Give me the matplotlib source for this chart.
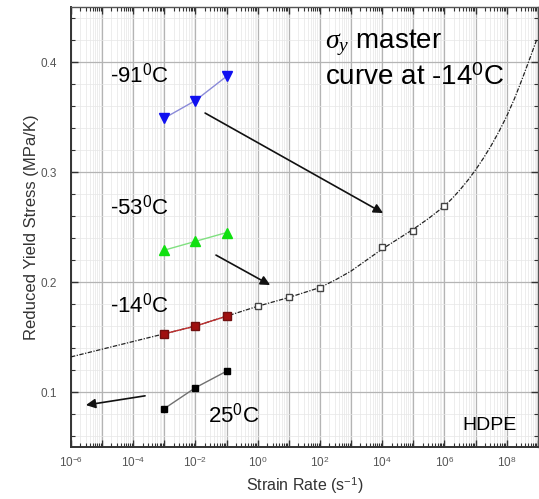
import numpy as np
import matplotlib
matplotlib.use("Agg")
import matplotlib.pyplot as plt
from matplotlib.ticker import FixedLocator, FuncFormatter, MultipleLocator

plt.rcParams["font.family"] = ["Liberation Sans", "DejaVu Sans"]
plt.rcParams["mathtext.fontset"] = "custom"
plt.rcParams["mathtext.rm"] = "Liberation Sans"
plt.rcParams["mathtext.it"] = "Liberation Serif:italic"

# measured strain rates (s^-1) for each test temperature
rates = [1e-3, 1e-2, 1e-1]
stress_m91 = [0.349, 0.365, 0.387]
stress_m53 = [0.229, 0.237, 0.245]
stress_m14 = [0.153, 0.160, 0.169]
stress_p25 = [0.085, 0.104, 0.119]

# shifted points on the -14 C master curve
shifted_rates = [1e0, 1e1, 1e2, 1e4, 1e5, 1e6]
shifted_stress = [0.178, 0.186, 0.195, 0.232, 0.246, 0.269]

# master curve trace (log10 of rate, stress)
master_lograte = [-6, -5, -4, -3, -2, -1, 0, 1, 2, 2.5, 3, 3.5, 4, 4.5, 5, 5.5,
                  6, 6.25, 6.5, 6.75, 7, 7.25, 7.5, 7.75, 8, 8.25, 8.5, 8.75, 8.97]
master_stress = [0.132, 0.139, 0.146, 0.153, 0.160, 0.169, 0.178, 0.186, 0.195,
                 0.202, 0.210, 0.220, 0.230, 0.239, 0.248, 0.258, 0.269, 0.2760,
                 0.2838, 0.2924, 0.3019, 0.3124, 0.3239, 0.3366, 0.3506, 0.3666,
                 0.3846, 0.4036, 0.4206]

# shift arrows: (start, end) in data coordinates
arrows = [
    ((10**-1.69, 0.3536), (10**4.03, 0.2627)),
    ((10**-1.34, 0.2245), (10**0.40, 0.1973)),
    ((10**-3.62, 0.0966), (10**-5.52, 0.0882)),
]

fig = plt.figure(figsize=(5.39, 4.99), dpi=100)
ax = fig.add_axes([0.1317, 0.104, 0.866, 0.882])
ax.set_xscale("log")
ax.set_xlim(1e-6, 1e9)
ax.set_ylim(0.05, 0.45)

ax.plot(10.0 ** np.array(master_lograte), master_stress, color="#222222", lw=0.9,
        ls=(0, (3.5, 1.2, 1, 1.2)), zorder=3)

ax.plot(rates, stress_m91, color="#8a8ad8", lw=1.0, marker="v", ms=7,
        mfc="#1010f0", mec="#1010f0", zorder=4)
ax.plot(rates, stress_m53, color="#80e080", lw=1.0, marker="^", ms=7,
        mfc="#10e010", mec="#10e010", zorder=4)
ax.plot(rates, stress_m14, color="#c03030", lw=1.0, marker="s", ms=5.5,
        mfc="#a01010", mec="#701010", zorder=4)
ax.plot(rates, stress_p25, color="#707070", lw=1.0, marker="s", ms=5,
        mfc="black", mec="black", zorder=4)
ax.plot(shifted_rates, shifted_stress, ls="none", marker="s", ms=4.8,
        mfc="white", mec="#444444", mew=1.0, zorder=5)

for start, end in arrows:
    ax.annotate("", xy=end, xytext=start,
                arrowprops=dict(arrowstyle="-|>", color="#111111", lw=1.2,
                                mutation_scale=14, shrinkA=0, shrinkB=0))

big = 16
ax.text(10**-4.75, 0.381, "-91$^{0}$C", fontsize=big)
ax.text(10**-4.75, 0.261, "-53$^{0}$C", fontsize=big)
ax.text(10**-4.75, 0.172, "-14$^{0}$C", fontsize=big)
ax.text(10**-1.59, 0.0727, "25$^{0}$C", fontsize=big)
ax.text(10**2.17, 0.4127, r"$\sigma_y$ master", fontsize=20)
ax.text(10**2.17, 0.379, "curve at -14$^{0}$C", fontsize=20)
ax.text(10**6.57, 0.0655, "HDPE", fontsize=14)

# every decade gets a gridline, every other decade a label
ax.xaxis.set_major_locator(FixedLocator([10.0**k for k in range(-6, 10)]))
ax.xaxis.set_minor_locator(FixedLocator([m * 10.0**k for k in range(-6, 9) for m in range(2, 10)]))
ax.xaxis.set_major_formatter(FuncFormatter(
    lambda v, _: "$10^{%d}$" % round(np.log10(v)) if round(np.log10(v)) % 2 == 0 else ""))
ax.yaxis.set_major_locator(FixedLocator([0.1, 0.2, 0.3, 0.4]))
ax.yaxis.set_minor_locator(MultipleLocator(0.02))

ax.grid(which="major", color="#b4b4b4", lw=0.9)
ax.grid(which="minor", color="#e6e6e6", lw=0.5)
ax.set_axisbelow(True)

ax.tick_params(which="both", direction="in", top=True, right=True,
               colors="#333333", labelcolor="#555555", labelsize=8.5)
ax.tick_params(which="major", length=5, width=1.0)
ax.tick_params(which="minor", length=3, width=0.8)
ax.tick_params(axis="y", pad=10)
ax.tick_params(axis="x", pad=6)
for side in ["left", "bottom"]:
    ax.spines[side].set_linewidth(1.4)
    ax.spines[side].set_color("#333333")
for side in ["top", "right"]:
    ax.spines[side].set_linewidth(1.0)
    ax.spines[side].set_color("#555555")

ax.set_xlabel("Strain Rate (s$^{-1}$)", fontsize=11.5, color="#333333", labelpad=4)
ax.set_ylabel("Reduced Yield Stress (MPa/K)", fontsize=12, color="#333333", labelpad=1)

fig.savefig("out.png", dpi=100)
